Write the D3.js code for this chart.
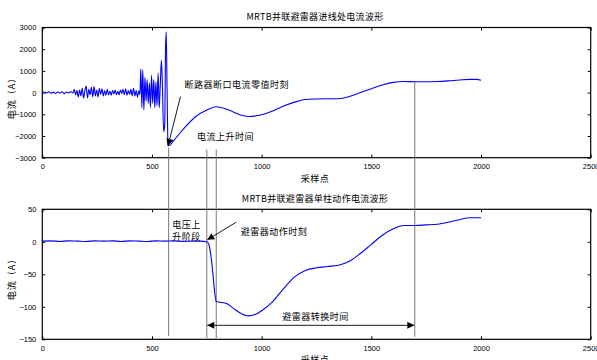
<!DOCTYPE html>
<html>
<head>
<meta charset="utf-8">
<script src="https://cdn.jsdelivr.net/npm/d3@7"></script>
<style>
  body { margin: 0; background: #fff; }
  svg { display: block; }
  .tick text { font-family: "Liberation Sans", Arial, sans-serif; font-size: 7.5px; fill: #000; }
  .cn { font-family: "Noto Sans CJK SC", sans-serif; font-size: 9px; fill: #000; letter-spacing: 0.5px; }
</style>
</head>
<body>
<div class="chart"></div>
<script>
// sample index / current values
var topX = [0, 10, 20, 30, 40, 50, 60, 70, 80, 90, 100, 110, 120, 130, 140,
  146, 152, 158, 164, 170, 176, 182, 188, 194, 200, 206, 212, 218, 224, 230,
  236, 242, 248, 254, 260, 266, 272, 278, 284, 290, 296, 302, 308, 314, 320,
  326, 332, 338, 344, 350, 356, 362, 368, 374, 380, 386, 392, 398, 404, 410,
  416, 422, 428, 434, 440,
  445, 449, 454, 458, 463, 468, 473, 478, 483, 488, 493, 498, 503, 508, 513,
  518, 523, 528, 533, 538, 543, 548, 553, 558, 562, 565, 569, 573, 576,
  600, 650, 700, 750, 793, 850, 900, 940, 1000, 1050, 1100, 1150, 1200, 1250,
  1300, 1350, 1400, 1450, 1500, 1550, 1600, 1650, 1700, 1750, 1800, 1850, 1900,
  1950, 1980, 2000];
var topY = [0, 30, -20, 40, -30, 20, -40, 30, -20, 40, -50, 30, -10, 40, -20,
  150, -100, 100, -200, 120, -150, 200, -250, 80, 300, -250, 150, -100, 250, -200,
  280, -150, 120, -200, 200, -80, 180, -150, 100, -120, 150, -100, 60, -120, 100,
  -60, 120, -100, 60, -100, 120, -40, 150, -100, 180, -120, 100, -80, 150, -150,
  200, -150, 100, -200, 80,
  -100, 1100, -700, 1050, -800, 700, -400, 600, -500, 450, -700, 800, -500, 600, -700,
  500, -600, 900, -700, 400, 1500, 200, -1800, -1500, 2100, 2800, 0, -2400, -2450,
  -2200, -1600, -1100, -800, -650, -800, -1020, -1100, -1020, -850, -620, -440, -320, -295,
  -285, -280, -180, 0, 180, 350, 470, 510, 500, 500, 510, 540, 580,
  610, 610, 570];

var botX = [0, 40, 80, 120, 160, 200, 240, 280, 320, 360, 400, 440, 480, 520, 560,
  600, 640, 680, 720, 750, 760, 770, 778, 785, 793, 810, 840, 870, 900, 940, 970,
  1000, 1050, 1100, 1150, 1200, 1250, 1300, 1350, 1400, 1450, 1500, 1550, 1600,
  1650, 1700, 1750, 1800, 1850, 1900, 1950, 2000];
var botY = [1, 1.5, 0.5, 1.5, 1, 0.5, 1.5, 1, 1.5, 0.5, 1.5, 1, 0.5, 1.5, 1,
  1.5, 0.5, 1, 1, 0, -5, -25, -50, -75, -92, -93, -95, -102, -109, -114, -112,
  -106, -92, -72, -54, -44, -40, -38, -36, -30, -18, -4, 10, 20,
  25, 25, 26, 27, 30, 34, 37, 37];

var xTicks = [0, 500, 1000, 1500, 2000, 2500];
var topTicks = [3000, 2000, 1000, 0, -1000, -2000, -3000];
var botTicks = [50, 0, -50, -100, -150];

var W = 597, H = 360;
var svg = d3.select('.chart').append('svg').attr('width', W).attr('height', H);

var defs = svg.append('defs');
defs.append('marker').attr('id', 'ah').attr('viewBox', '0 0 10 10')
  .attr('refX', 10).attr('refY', 5).attr('markerWidth', 9).attr('markerHeight', 7)
  .attr('markerUnits', 'userSpaceOnUse').attr('orient', 'auto-start-reverse')
  .append('path').attr('d', 'M0,0L10,5L0,10z').attr('fill', '#000');

var x = d3.scaleLinear().domain([0, 2500]).range([42.3, 590.7]);
var yT = d3.scaleLinear().domain([-3000, 3000]).range([157.7, 27.5]);
var yB = d3.scaleLinear().domain([-150, 50]).range([339.3, 209.3]);
var fmt = d3.format('d');

function drawAxes(y, ticks, title, titleY, labelY) {
  var g = svg.append('g');
  var r0 = y.range();
  g.append('g').attr('transform', 'translate(0,' + r0[0] + ')')
    .call(d3.axisBottom(x).tickValues(xTicks).tickFormat(fmt).tickSizeInner(-3).tickSizeOuter(0).tickPadding(6));
  g.append('g').attr('transform', 'translate(0,' + r0[1] + ')')
    .call(d3.axisTop(x).tickValues(xTicks).tickSizeInner(-3).tickSizeOuter(0).tickFormat(''));
  g.append('g').attr('transform', 'translate(' + x(0) + ',0)')
    .call(d3.axisLeft(y).tickValues(ticks).tickFormat(fmt).tickSizeInner(-3).tickSizeOuter(0).tickPadding(6));
  g.append('g').attr('transform', 'translate(' + x(2500) + ',0)')
    .call(d3.axisRight(y).tickValues(ticks).tickSizeInner(-3).tickSizeOuter(0).tickFormat(''));
  g.selectAll('.domain').remove();
  g.selectAll('.tick line').attr('stroke', '#000');
  g.append('rect').attr('x', x(0)).attr('y', r0[1])
    .attr('width', x(2500) - x(0)).attr('height', r0[0] - r0[1])
    .attr('fill', 'none').attr('stroke', '#000').attr('stroke-width', 1.2);
  svg.append('text').attr('class', 'cn').attr('x', 315).attr('y', titleY)
    .attr('text-anchor', 'middle').style('letter-spacing', '0.3px').text(title);
  svg.append('text').attr('class', 'cn').attr('x', 315).attr('y', r0[0] + 24)
    .attr('text-anchor', 'middle').text('采样点');
  svg.append('text').attr('class', 'cn')
    .attr('transform', 'translate(' + 15 + ',' + labelY + ') rotate(-90)')
    .attr('text-anchor', 'middle').style('letter-spacing', '1px').text('电流（A）');
}

drawAxes(yT, topTicks, 'MRTB并联避雷器进线处电流波形', 20, 96);
drawAxes(yB, botTicks, 'MRTB并联避雷器单柱动作电流波形', 202, 277);

var lineT = d3.line().x(function(d, i) { return x(topX[i]); }).y(function(d) { return yT(d); })
  .curve(d3.curveMonotoneX);
var lineB = d3.line().x(function(d, i) { return x(botX[i]); }).y(function(d) { return yB(d); })
  .curve(d3.curveMonotoneX);

// grey marker lines spanning both plots
var marks = [[576, -2540, -145], [750, -2630, -148], [793, -2630, -148], [1698, 500, -146]];
svg.selectAll('.vl').data(marks).enter().append('line')
  .attr('x1', function(d) { return x(d[0]); }).attr('x2', function(d) { return x(d[0]); })
  .attr('y1', function(d) { return yT(d[1]); }).attr('y2', function(d) { return yB(d[2]); })
  .attr('stroke', '#777').attr('stroke-width', 1);

svg.append('path').datum(topY).attr('d', lineT)
  .attr('fill', 'none').attr('stroke', '#0000ff').attr('stroke-width', 1.1);
svg.append('path').datum(botY).attr('d', lineB)
  .attr('fill', 'none').attr('stroke', '#0000ff').attr('stroke-width', 1.1);

// annotations
function label(txt, xv, yv, ys) {
  svg.append('text').attr('class', 'cn').attr('x', x(xv)).attr('y', ys(yv)).text(txt);
}
function arrow(x1, y1, x2, y2, ys, both) {
  var a = svg.append('line').attr('x1', x(x1)).attr('y1', ys(y1))
    .attr('x2', x(x2)).attr('y2', ys(y2))
    .attr('stroke', '#000').attr('stroke-width', 0.9).attr('marker-end', 'url(#ah)');
  if (both) a.attr('marker-start', 'url(#ah)');
}

label('断路器断口电流零值时刻', 648, 220, yT);
arrow(630, -180, 573, -2460, yT);
label('电流上升时间', 705, -2200, yT);

label('电压上', 592, 22, yB);
label('升阶段', 592, 3, yB);
label('避雷器动作时刻', 905, 11, yB);
arrow(883, 30, 752, 3, yB);
label('避雷器转换时间', 1094, -120, yB);
arrow(752, -128.5, 1696, -128.5, yB, true);
</script>
</body>
</html>
